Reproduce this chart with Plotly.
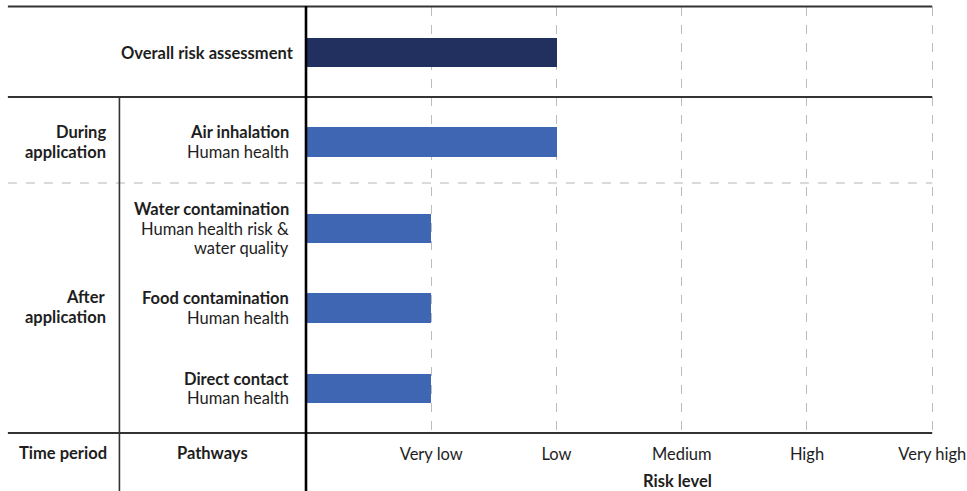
import plotly.graph_objects as go

# ---- data ----
pathways = ["Overall risk assessment", "Air inhalation", "Water contamination",
            "Food contamination", "Direct contact"]
pathway_notes = [[], ["Human health"], ["Human health risk &", "water quality"],
                 ["Human health"], ["Human health"]]
risk_values = [2, 2, 1, 1, 1]
risk_tick_vals = [1, 2, 3, 4, 5]
risk_tick_labels = ["Very low", "Low", "Medium", "High", "Very high"]
time_periods = [["During", "application"], ["After", "application"]]

# ---- layout helpers (pixel geometry of the page) ----
W, H = 967, 491
XMAX = 5.03
L, T, B = 306, 7, 58
PW = 626 * XMAX / 5          # so that "Very high" lands at x = 932 px
R = W - L - PW
PH = H - T - B
row_pos = [45.5, 135, 221.5, 301, 381.5]   # row centres, px from plot top
bar_colors = ["#21305f", "#3e66b3", "#3e66b3", "#3e66b3", "#3e66b3"]
FONT = "Lato"
FS = 16.5
LH = 19.7
TXT = "#1e1e1e"

def px(xp):
    return (xp - L) / PW

def py(yp):
    return (H - B - yp) / PH

fig = go.Figure()
fig.add_trace(go.Bar(
    x=risk_values, y=row_pos, orientation="h", width=29.5,
    marker=dict(color=bar_colors, line=dict(width=0)),
    hoverinfo="skip", showlegend=False,
))

shapes = []
line_col = "#333333"
for yp in [6.5, 97, 433]:
    shapes.append(dict(type="line", xref="paper", yref="paper",
                       x0=px(8), x1=px(932), y0=py(yp), y1=py(yp),
                       line=dict(color=line_col, width=2)))
shapes.append(dict(type="line", xref="paper", yref="paper",
                   x0=px(8), x1=px(932), y0=py(183), y1=py(183),
                   line=dict(color="#b5b5b5", width=1.2, dash="dash")))
shapes.append(dict(type="line", xref="paper", yref="paper",
                   x0=px(119.5), x1=px(119.5), y0=py(97), y1=py(491),
                   line=dict(color=line_col, width=1.6)))
shapes.append(dict(type="line", xref="paper", yref="paper",
                   x0=px(306), x1=px(306), y0=py(6), y1=py(491),
                   line=dict(color="#000000", width=2.6)))

annotations = []
def ann(text, xpix, ypix, anchor="right", bold=False):
    annotations.append(dict(
        text=f"<b>{text}</b>" if bold else text,
        xref="paper", yref="paper", x=px(xpix), y=py(ypix),
        xanchor=anchor, yanchor="middle", showarrow=False, align=anchor,
        font=dict(family=FONT, size=FS, color=TXT)))

def block(lines, xpix, yc, bold_first=True, all_bold=False):
    n = len(lines)
    for i, s in enumerate(lines):
        ann(s, xpix, yc + (i - (n - 1) / 2) * LH,
            bold=all_bold or (bold_first and i == 0))

for name, notes, yp in zip(pathways, pathway_notes, row_pos):
    block([name] + notes, 296 if not notes else 291, yp + T)

block(time_periods[0], 108, 142, all_bold=True)
block(time_periods[1], 108, 307, all_bold=True)

ann("Time period", 63, 453, anchor="center", bold=True)
ann("Pathways", 213, 453, anchor="center", bold=True)
ann("Risk level", 677, 480.5, anchor="center", bold=True)

fig.update_layout(
    width=W, height=H,
    margin=dict(l=L, r=R, t=T, b=B, pad=0, autoexpand=False),
    paper_bgcolor="white", plot_bgcolor="white",
    font=dict(family=FONT, size=FS, color=TXT),
    shapes=shapes, annotations=annotations,
    bargap=0,
    xaxis=dict(range=[0, XMAX], tickvals=risk_tick_vals, ticktext=risk_tick_labels,
               showgrid=True, gridcolor="#bdbdbd", griddash="dash", gridwidth=1,
               zeroline=False, showline=False, ticks="", ticklabelstandoff=9,
               automargin=False,
               tickfont=dict(family=FONT, size=FS, color=TXT), fixedrange=True),
    yaxis=dict(range=[PH, 0], visible=False, showgrid=False, zeroline=False,
               automargin=False, fixedrange=True),
)

fig.write_html("out.html")
